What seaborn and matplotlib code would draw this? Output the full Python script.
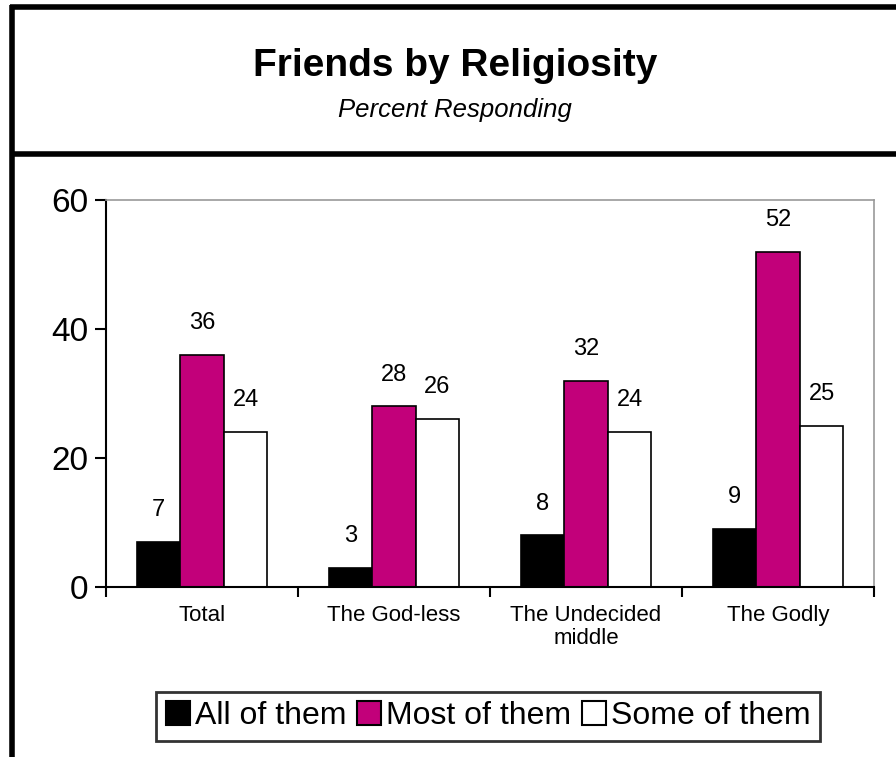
#!/usr/bin/env python3

import pandas as pd
import matplotlib.pyplot as plt
from matplotlib.lines import Line2D
import seaborn as sns

sns.set_style('white')
plt.rcParams['font.family'] = ['Liberation Sans', 'DejaVu Sans']
plt.rcParams['text.color'] = 'black'
plt.rcParams['xtick.color'] = 'black'
plt.rcParams['ytick.color'] = 'black'

# Data
groups = ['Total', 'The God-less', 'The Undecided\nmiddle', 'The Godly']
series = ['All of them', 'Most of them', 'Some of them']
all_of_them = [7, 3, 8, 9]
most_of_them = [36, 28, 32, 52]
some_of_them = [24, 26, 24, 25]
colors = ['#000000', '#C2007A', '#FFFFFF']

rows = []
for name, vals in zip(series, [all_of_them, most_of_them, some_of_them]):
    for g, v in zip(groups, vals):
        rows.append({'Group': g, 'Answer': name, 'Percent': v})
df = pd.DataFrame(rows)

fig = plt.figure(figsize=(8.96, 7.57), dpi=100)
ax = fig.add_axes([106 / 896, 1 - 587 / 757, (874 - 106) / 896, (587 - 200) / 757])

sns.barplot(data=df, x='Group', y='Percent', hue='Answer', order=groups,
            hue_order=series, palette=colors, saturation=1, width=0.68, gap=0,
            edgecolor='black', linewidth=1.2, ax=ax, legend=False)

# Value labels
for container in ax.containers:
    ax.bar_label(container, fmt='%d', padding=15, fontsize=17)

ax.set_ylim(0, 60)
ax.set_xlim(-0.5, 3.5)
ax.set_yticks([0, 20, 40, 60])
ax.set_xticks([-0.5, 0.5, 1.5, 2.5, 3.5])
ax.set_xticklabels([])
ax.tick_params(axis='y', which='major', direction='out', length=8, width=1.5,
               labelsize=24, left=True, pad=5)
ax.tick_params(axis='x', which='major', direction='out', length=7, width=1.5,
               bottom=True)
ax.set_xticks([0, 1, 2, 3], minor=True)
ax.set_xticklabels(groups, minor=True, fontsize=16, linespacing=1.1)
ax.tick_params(axis='x', which='minor', length=0, pad=13)
ax.set_xlabel('')
ax.set_ylabel('')

for side in ['left', 'bottom']:
    ax.spines[side].set_color('black')
    ax.spines[side].set_linewidth(1.5)
for side in ['top', 'right']:
    ax.spines[side].set_color('#999999')
    ax.spines[side].set_linewidth(1.2)

# Legend
handles = [plt.Rectangle((0, 0), 1, 1, facecolor=c, edgecolor='black', linewidth=1.5)
           for c in colors]
leg = fig.legend(handles, series, loc='center', bbox_to_anchor=(0.545, 0.054),
                 ncol=3, fontsize=23, frameon=True, fancybox=False,
                 handlelength=0.75, handleheight=0.75, handletextpad=0.15,
                 columnspacing=0.35, borderpad=0.3, borderaxespad=0)
leg.get_frame().set_edgecolor('black')
leg.get_frame().set_linewidth(2)

# Title block
fig.text(0.508, 1 - 66 / 757, 'Friends by Religiosity', ha='center', va='center',
         fontsize=28, fontweight='bold')
fig.text(0.508, 1 - 110 / 757, 'Percent Responding', ha='center', va='center',
         fontsize=18.5, style='italic')

# Frame lines
fig.add_artist(Line2D([12 / 896, 12 / 896], [0, 1 - 5 / 757], color='black',
                      linewidth=4, solid_capstyle='butt'))
fig.add_artist(Line2D([10 / 896, 1], [1 - 7 / 757, 1 - 7 / 757], color='black',
                      linewidth=4, solid_capstyle='butt'))
fig.add_artist(Line2D([10 / 896, 1], [1 - 154 / 757, 1 - 154 / 757], color='black',
                      linewidth=4, solid_capstyle='butt'))

plt.savefig('out.png', dpi=100)
